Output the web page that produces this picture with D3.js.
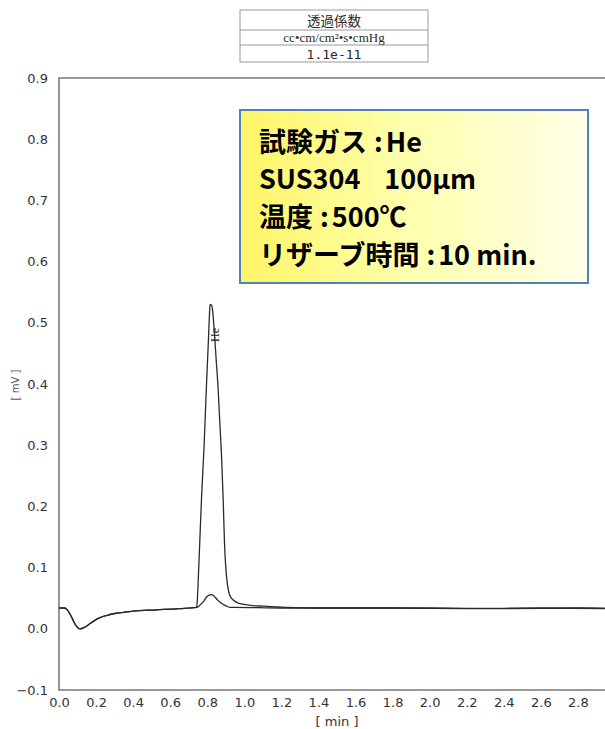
<!DOCTYPE html>
<html>
<head>
<meta charset="utf-8">
<script src="https://cdn.jsdelivr.net/npm/d3@7"></script>
<style>
  body { margin: 0; background: #fff; }
  svg { display: block; }
</style>
</head>
<body>
<div id="content"></div>
<script>
// trace with the large He peak
let bigT = [0, 0.03, 0.045, 0.068, 0.09, 0.113, 0.14, 0.17, 0.212, 0.26, 0.3, 0.347, 0.4, 0.527, 0.65, 0.742,
  0.746, 0.750, 0.758, 0.770, 0.783, 0.796, 0.806, 0.812, 0.815, 0.822, 0.828, 0.837, 0.848, 0.859, 0.868,
  0.877, 0.886, 0.893, 0.900, 0.910, 0.922, 0.940, 0.967, 1.0, 1.046, 1.10, 1.227, 1.4, 1.8, 2.2, 2.6, 3.0];
let bigV = [0.034, 0.034, 0.031, 0.019, 0.006, 0.000, 0.003, 0.009, 0.017, 0.022, 0.025, 0.027, 0.029, 0.031, 0.033, 0.035,
  0.045, 0.07, 0.13, 0.22, 0.30, 0.40, 0.47, 0.515, 0.530, 0.529, 0.522, 0.49, 0.44, 0.39, 0.335,
  0.283, 0.21, 0.14, 0.10, 0.07, 0.054, 0.047, 0.042, 0.040, 0.038, 0.037, 0.035, 0.034, 0.034, 0.033, 0.034, 0.033];

// trace with the small bump
let smallT = [0, 0.03, 0.045, 0.068, 0.09, 0.113, 0.14, 0.17, 0.212, 0.26, 0.3, 0.347, 0.4, 0.527, 0.65, 0.742,
  0.755, 0.765, 0.778, 0.796, 0.810, 0.823, 0.835, 0.847, 0.859, 0.875, 0.890, 0.904, 0.925, 0.949,
  1.2, 1.6, 2.0, 2.4, 2.8, 3.0];
let smallV = [0.034, 0.034, 0.031, 0.019, 0.006, 0.000, 0.003, 0.009, 0.017, 0.022, 0.025, 0.027, 0.029, 0.031, 0.033, 0.035,
  0.037, 0.040, 0.044, 0.052, 0.055, 0.056, 0.054, 0.050, 0.046, 0.042, 0.039, 0.037, 0.035, 0.035,
  0.034, 0.034, 0.034, 0.033, 0.034, 0.033];

let xTicks = [0, 0.2, 0.4, 0.6, 0.8, 1.0, 1.2, 1.4, 1.6, 1.8, 2.0, 2.2, 2.4, 2.6, 2.8];
let yTicks = [-0.1, 0, 0.1, 0.2, 0.3, 0.4, 0.5, 0.6, 0.7, 0.8, 0.9];

let tableRows = ['透過係数', 'cc•cm/cm²•s•cmHg', '1.1e-11'];
let noteLabels = ['試験ガス', 'SUS304', '温度', 'リザーブ時間'];
let noteSeps = [':', '', ':', ':'];
let noteValues = ['He', '100µm', '500℃', '10 min.'];

let width = 605, height = 729;

let svg = d3.select('#content').append('svg')
  .attr('width', width)
  .attr('height', height);

let x = d3.scaleLinear().domain([0, 3.0]).range([59, 615]);
let y = d3.scaleLinear().domain([-0.1, 0.9]).range([690, 78]);

// frame
svg.append('path')
  .attr('d', `M${x(3.0)},${y(0.9)}H${x(0)}V${y(-0.1)}H${x(3.0)}`)
  .attr('fill', 'none')
  .attr('stroke', '#7a7a7a')
  .attr('stroke-width', 1.6);

// axes (labels only, no tick marks)
let xAxis = svg.append('g')
  .attr('transform', `translate(0,${y(-0.1)})`)
  .call(d3.axisBottom(x).tickValues(xTicks).tickFormat(d3.format('.1f')).tickSize(0).tickPadding(8));
xAxis.select('.domain').remove();

let yAxis = svg.append('g')
  .attr('transform', `translate(${x(0)},0)`)
  .call(d3.axisLeft(y).tickValues(yTicks).tickFormat(d3.format('.1f')).tickSize(0).tickPadding(11));
yAxis.select('.domain').remove();

svg.selectAll('.tick text')
  .attr('font-family', 'DejaVu Sans, Verdana, sans-serif')
  .attr('font-size', 13)
  .attr('fill', '#333');

svg.append('text')
  .attr('x', x(1.5))
  .attr('y', 726)
  .attr('text-anchor', 'middle')
  .attr('font-family', 'DejaVu Sans, sans-serif')
  .attr('font-size', 13)
  .attr('fill', '#333')
  .text('[ min ]');

svg.append('text')
  .attr('transform', 'translate(19,385) rotate(-90)')
  .attr('text-anchor', 'middle')
  .attr('font-family', 'DejaVu Sans, sans-serif')
  .attr('font-size', 10)
  .attr('fill', '#555')
  .text('[ mV ]');

// traces
let line = d3.line()
  .x(d => x(d[0]))
  .y(d => y(d[1]))
  .curve(d3.curveMonotoneX);

svg.append('path')
  .datum(d3.zip(smallT, smallV))
  .attr('d', line)
  .attr('fill', 'none')
  .attr('stroke', '#2a2a2a')
  .attr('stroke-width', 1.3);

svg.append('path')
  .datum(d3.zip(bigT, bigV))
  .attr('d', line)
  .attr('fill', 'none')
  .attr('stroke', '#2a2a2a')
  .attr('stroke-width', 1.3);

// peak label
svg.append('text')
  .attr('transform', `translate(${x(0.825) + 7},${y(0.48)}) rotate(-90)`)
  .attr('text-anchor', 'middle')
  .attr('font-family', 'Liberation Serif, serif')
  .attr('font-size', 12)
  .attr('fill', '#222')
  .text('He');

// table at top
let tbl = svg.append('g');
tbl.append('rect')
  .attr('x', 240).attr('y', 10).attr('width', 188).attr('height', 52)
  .attr('fill', '#fff').attr('stroke', '#9a9a9a').attr('stroke-width', 1);
[30, 45].forEach(yy => {
  tbl.append('line')
    .attr('x1', 240).attr('x2', 428).attr('y1', yy).attr('y2', yy)
    .attr('stroke', '#9a9a9a').attr('stroke-width', 1);
});
let rowBase = [26, 42, 59];
let rowFont = ['Noto Sans CJK JP', 'Liberation Serif, serif', 'DejaVu Sans Mono, monospace'];
let rowSize = [13.5, 13, 13];
tbl.selectAll('text.row')
  .data(tableRows)
  .join('text')
  .attr('class', 'row')
  .attr('x', 334)
  .attr('y', (d, i) => rowBase[i])
  .attr('text-anchor', 'middle')
  .attr('font-family', (d, i) => rowFont[i])
  .attr('font-size', (d, i) => rowSize[i])
  .attr('fill', '#2a2a2a')
  .text(d => d);

// note box
let defs = svg.append('defs');
let grad = defs.append('linearGradient')
  .attr('id', 'noteFill')
  .attr('x1', '0%').attr('x2', '100%').attr('y1', '0%').attr('y2', '0%');
grad.append('stop').attr('offset', '0%').attr('stop-color', '#fff566');
grad.append('stop').attr('offset', '45%').attr('stop-color', '#ffffaa');
grad.append('stop').attr('offset', '100%').attr('stop-color', '#ffffe8');

svg.append('rect')
  .attr('x', 240).attr('y', 110).attr('width', 348).attr('height', 173)
  .attr('fill', 'url(#noteFill)')
  .attr('stroke', '#4f81bd')
  .attr('stroke-width', 2);

let noteBase = [152, 189, 227, 265];
let notes = svg.selectAll('text.note')
  .data(noteLabels)
  .join('text')
  .attr('class', 'note')
  .attr('x', 259)
  .attr('y', (d, i) => noteBase[i])
  .attr('font-family', 'Noto Sans CJK JP, sans-serif')
  .attr('font-weight', 'bold')
  .attr('font-size', 27)
  .attr('fill', '#000');

notes.append('tspan').text(d => d);
notes.append('tspan')
  .attr('dx', (d, i) => noteSeps[i] ? 7 : 0)
  .text((d, i) => noteSeps[i]);
notes.append('tspan')
  .attr('dx', (d, i) => noteSeps[i] ? 3 : 24)
  .text((d, i) => noteValues[i]);
</script>
</body>
</html>
